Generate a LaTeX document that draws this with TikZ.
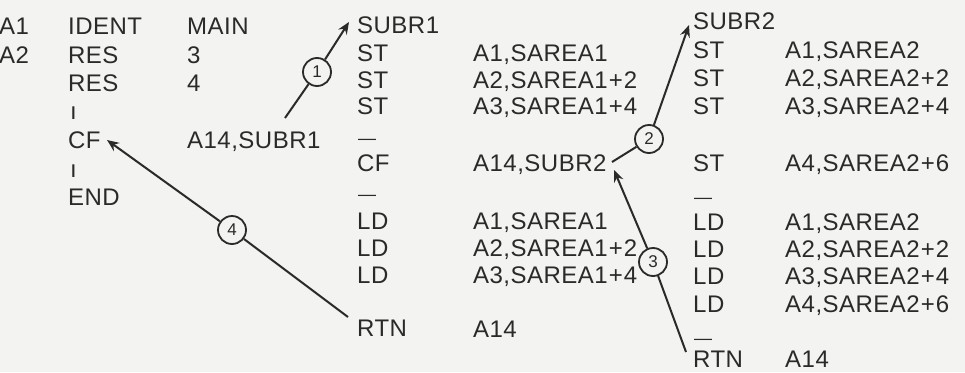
\documentclass[tikz,border=0pt]{standalone}
\usepackage{fontspec}
\setmainfont[LetterSpace=2]{Liberation Sans}
\usetikzlibrary{arrows.meta}
\definecolor{ink}{HTML}{2A2A2A}
\definecolor{paper}{HTML}{F3F3F1}
\newcommand{\pl}{\kern1pt+\kern1pt}
\begin{document}
\begin{tikzpicture}[x=1pt,y=-1pt,
  txt/.style={anchor=west,inner sep=0pt,text height=17pt,text depth=0pt,
    font=\fontsize{24}{24}\selectfont,text=ink},
  dashtxt/.style={txt,font=\fontsize{18}{18}\selectfont},
  num/.style={circle,draw=ink,fill=paper,line width=1.8pt,minimum size=28pt,inner sep=0pt,
    font=\fontsize{17}{17}\selectfont,text=ink},
  link/.style={draw=ink,line width=2pt},
  arr/.style={link,-{Stealth[length=12pt,width=10pt,inset=4pt]}}]
\fill[paper] (0,0) rectangle (965,372);
\useasboundingbox (0,0) rectangle (965,372);
% main program
\node[txt] (a1) at (-1,26) {A1};
\node[txt] (a2) at (-1,55) {A2};
\node[txt] (b1) at (68,26) {IDENT};
\node[txt] (b2) at (68,55) {RES};
\node[txt] (b3) at (68,83) {RES};
\node[txt] (b4) at (70,111) {ı};
\node[txt] (b5) at (68,140) {CF};
\node[txt] (b6) at (70,169) {ı};
\node[txt] (b7) at (68,197) {END};
\node[txt] (c1) at (187,26) {MAIN};
\node[txt] (c2) at (187,55) {3};
\node[txt] (c3) at (187,83) {4};
\node[txt] (c5) at (187,140) {A14,SUBR1};
% SUBR1
\node[txt] (d1) at (357,25) {SUBR1};
\node[txt] (d2) at (357,53) {ST};
\node[txt] (d3) at (357,80) {ST};
\node[txt] (d4) at (357,106) {ST};
\node[dashtxt] (d5) at (358,136) {—};
\node[txt] (d6) at (357,163) {CF};
\node[dashtxt] (d7) at (358,192) {—};
\node[txt] (d8) at (357,221) {LD};
\node[txt] (d9) at (357,248) {LD};
\node[txt] (d10) at (357,275) {LD};
\node[txt] (d11) at (357,328) {RTN};
\node[txt] (e2) at (473,53) {A1,SAREA1};
\node[txt] (e3) at (473,80) {A2,SAREA1\pl2};
\node[txt] (e4) at (473,106) {A3,SAREA1\pl4};
\node[txt] (e6) at (473,163) {A14,SUBR2};
\node[txt] (e8) at (473,221) {A1,SAREA1};
\node[txt] (e9) at (473,248) {A2,SAREA1\pl2};
\node[txt] (e10) at (473,275) {A3,SAREA1\pl4};
\node[txt] (e11) at (473,329) {A14};
% SUBR2
\node[txt] (f1) at (693,21) {SUBR2};
\node[txt] (f2) at (693,50) {ST};
\node[txt] (f3) at (693,78) {ST};
\node[txt] (f4) at (693,106) {ST};
\node[txt] (f5) at (693,163) {ST};
\node[dashtxt] (f6) at (694,195) {—};
\node[txt] (f7) at (693,222) {LD};
\node[txt] (f8) at (693,249) {LD};
\node[txt] (f9) at (693,276) {LD};
\node[txt] (f10) at (693,304) {LD};
\node[dashtxt] (f11) at (694,336) {—};
\node[txt] (f12) at (693,359) {RTN};
\node[txt] (g2) at (785,50) {A1,SAREA2};
\node[txt] (g3) at (785,78) {A2,SAREA2\pl2};
\node[txt] (g4) at (785,106) {A3,SAREA2\pl4};
\node[txt] (g5) at (785,163) {A4,SAREA2\pl6};
\node[txt] (g7) at (785,222) {A1,SAREA2};
\node[txt] (g8) at (785,249) {A2,SAREA2\pl2};
\node[txt] (g9) at (785,276) {A3,SAREA2\pl4};
\node[txt] (g10) at (785,304) {A4,SAREA2\pl6};
\node[txt] (g12) at (785,359) {A14};
% numbered circles
\node[num] (n1) at (317,72) {1};
\node[num] (n2) at (649,139) {2};
\node[num] (n3) at (653,262) {3};
\node[num] (n4) at (232,230) {4};
% connector ends
\coordinate (s1) at (285,118);
\coordinate (t1) at (349,22);
\coordinate (s2) at (612,162);
\coordinate (t2) at (689,25);
\coordinate (s3) at (686,352);
\coordinate (t3) at (614,170);
\coordinate (s4) at (348,317);
\coordinate (t4) at (107,140);
% connectors
\draw[link] (s1) -- (n1);
\draw[arr] (n1) -- (t1);
\draw[link] (s2) -- (n2);
\draw[arr] (n2) -- (t2);
\draw[link] (s3) -- (n3);
\draw[arr] (n3) -- (t3);
\draw[link] (s4) -- (n4);
\draw[arr] (n4) -- (t4);
\end{tikzpicture}
\end{document}
